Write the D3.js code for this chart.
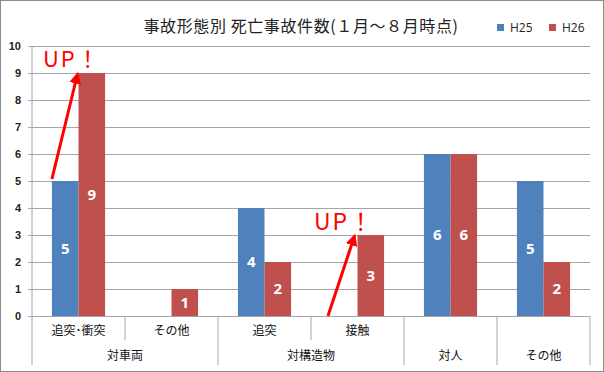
<!DOCTYPE html>
<html>
<head>
<meta charset="utf-8">
<script src="https://cdn.jsdelivr.net/npm/d3@7.8.5/dist/d3.min.js"></script>
<style>
  body { margin: 0; background: #fff; }
  svg { display: block; font-family: "Noto Sans CJK JP", "Noto Sans", sans-serif; }
</style>
</head>
<body>
<svg width="604" height="372"></svg>
<script>
const subLabels = ["追突･衝突", "その他", "追突", "接触", "", ""];
const groupLabels = ["対車両", "対構造物", "対人", "その他"];
const groupSizes = [2, 2, 1, 1];
const seriesNames = ["H25", "H26"];
const h25 = [5, 0, 4, 0, 6, 5];
const h26 = [9, 1, 2, 3, 6, 2];
const yTicks = [0, 1, 2, 3, 4, 5, 6, 7, 8, 9, 10];

const colors = { H25: "#4f81bd", H26: "#c0504d" };
const svg = d3.select("svg");

svg.append("rect")
  .attr("x", 0.5).attr("y", 0.5)
  .attr("width", 603).attr("height", 371)
  .attr("fill", "#fff").attr("stroke", "#8c8c8c");

const plotL = 32, plotR = 590, plotT = 46, plotB = 316;
const idx = d3.range(subLabels.length);

const x = d3.scaleBand().domain(idx).range([plotL, plotR]).padding(0);
const xInner = d3.scaleBand().domain(seriesNames).range([0, x.bandwidth()]).paddingOuter(0.75).paddingInner(0);
const y = d3.scaleLinear().domain([0, 10]).range([plotB, plotT]);

// grid + y axis
const yAxis = svg.append("g")
  .attr("transform", `translate(${plotL - 4},0)`)
  .call(d3.axisLeft(y).tickValues(yTicks).tickSizeInner(-(plotR - plotL + 4)).tickSizeOuter(0).tickPadding(7));
yAxis.select(".domain").remove();
yAxis.selectAll("line").attr("stroke", "#a6a6a6");
yAxis.selectAll("text").attr("font-size", 11).attr("fill", "#222")
  .attr("font-family", "'Liberation Sans', Arial, sans-serif").attr("font-weight", "bold");

svg.append("line")
  .attr("x1", plotL).attr("x2", plotL).attr("y1", plotT).attr("y2", plotB)
  .attr("stroke", "#a6a6a6");

// bars
const rows = idx.map(i => ({ i, H25: h25[i], H26: h26[i] }));
const grp = svg.append("g").selectAll("g").data(rows).join("g")
  .attr("transform", d => `translate(${x(d.i)},0)`);

grp.selectAll("rect").data(d => seriesNames.map(k => ({ k, v: d[k] })).filter(e => e.v > 0))
  .join("rect")
  .attr("x", d => xInner(d.k))
  .attr("y", d => y(d.v))
  .attr("width", xInner.bandwidth())
  .attr("height", d => y(0) - y(d.v))
  .attr("fill", d => colors[d.k]);

grp.selectAll("text").data(d => seriesNames.map(k => ({ k, v: d[k] })).filter(e => e.v > 0))
  .join("text")
  .attr("x", d => xInner(d.k) + xInner.bandwidth() / 2)
  .attr("y", d => (y(d.v) + y(0)) / 2)
  .attr("dy", "0.36em")
  .attr("text-anchor", "middle")
  .attr("font-size", 15).attr("font-weight", "bold").attr("fill", "#fff")
  .attr("font-family", "'Open Sans', 'Liberation Sans', sans-serif")
  .text(d => d.v);

// category axis
const cat = svg.append("g");
const groupEdges = d3.cumsum([0, ...groupSizes]);
d3.range(subLabels.length + 1).forEach(i => {
  const xp = i < subLabels.length ? x(i) : plotR;
  const full = groupEdges.includes(i);
  cat.append("line")
    .attr("x1", xp).attr("x2", xp)
    .attr("y1", plotB).attr("y2", full ? 365 : 340)
    .attr("stroke", "#a6a6a6");
});
cat.selectAll(".sub").data(idx.filter(i => subLabels[i])).join("text")
  .attr("x", i => x(i) + x.bandwidth() / 2)
  .attr("y", 331).attr("dy", "0.36em")
  .attr("text-anchor", "middle").attr("font-size", 12).attr("fill", "#111")
  .text(i => subLabels[i]);
cat.selectAll(".grp").data(groupLabels).join("text")
  .attr("x", (d, j) => {
    const a = x(groupEdges[j]);
    const b = groupEdges[j + 1] < subLabels.length ? x(groupEdges[j + 1]) : plotR;
    return (a + b) / 2;
  })
  .attr("y", 356).attr("dy", "0.36em")
  .attr("text-anchor", "middle").attr("font-size", 12).attr("fill", "#111")
  .text(d => d);

// title
svg.append("text")
  .attr("x", 301).attr("y", 26).attr("dy", "0.36em")
  .attr("text-anchor", "middle").attr("font-size", 16).attr("fill", "#222")
  .attr("letter-spacing", 0.6)
  .text("事故形態別 死亡事故件数(１月～８月時点)");

// legend
const leg = svg.append("g");
seriesNames.forEach((k, j) => {
  const lx = 497 + j * 52;
  leg.append("rect").attr("x", lx).attr("y", 24).attr("width", 7).attr("height", 7).attr("fill", colors[k]);
  leg.append("text").attr("x", lx + 13).attr("y", 28).attr("dy", "0.36em")
    .attr("font-size", 12).attr("fill", "#222")
    .attr("font-family", "'Open Sans', 'Liberation Sans', sans-serif")
    .text(k);
});

// annotations
const defs = svg.append("defs");
defs.append("marker").attr("id", "ah")
  .attr("viewBox", "0 0 10 10").attr("refX", 8).attr("refY", 5)
  .attr("markerWidth", 4).attr("markerHeight", 4).attr("orient", "auto")
  .append("path").attr("d", "M0,0L10,5L0,10Z").attr("fill", "#ff0000");

const arrows = [
  { x1: x(0) + xInner("H25"), y1: y(h25[0]) - 2, x2: x(0) + xInner("H26") - 1, y2: y(h26[0]) + 1 },
  { x1: x(3) + xInner("H25") - 3, y1: y(0), x2: x(3) + xInner("H26") - 3, y2: y(h26[3]) + 1 }
];
svg.selectAll(".arr").data(arrows).join("line")
  .attr("x1", d => d.x1).attr("y1", d => d.y1)
  .attr("x2", d => d.x2).attr("y2", d => d.y2)
  .attr("stroke", "#ff0000").attr("stroke-width", 3)
  .attr("marker-end", "url(#ah)");

svg.append("text").attr("x", 43).attr("y", 67)
  .attr("font-size", 22).attr("fill", "#ff0000").attr("letter-spacing", 2).text("UP！");
svg.append("text").attr("x", 314).attr("y", 230)
  .attr("font-size", 23).attr("fill", "#ff0000").attr("letter-spacing", 2).text("UP！");
</script>
</body>
</html>
